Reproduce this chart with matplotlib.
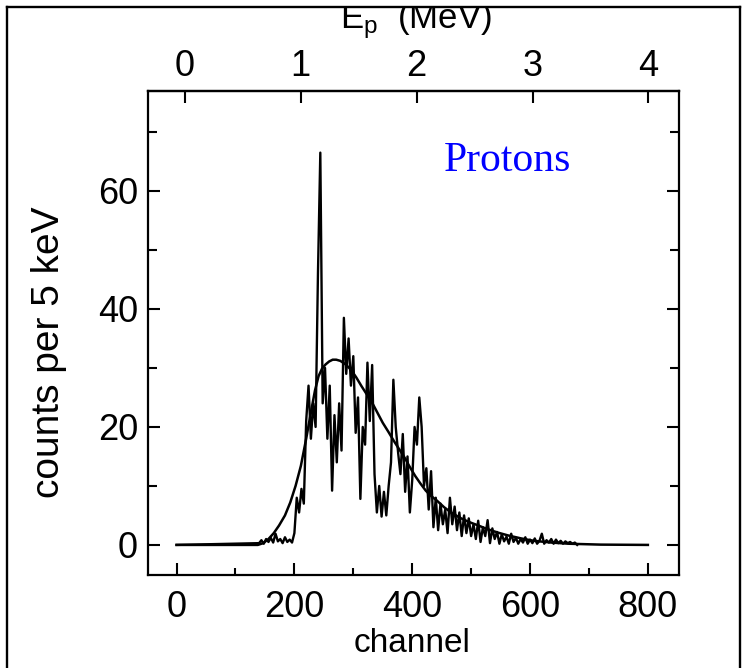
import numpy as np
import matplotlib.pyplot as plt
from matplotlib.lines import Line2D
from matplotlib.patches import Rectangle
from matplotlib.ticker import MultipleLocator

# smooth curve (fit)
fit_ch = [0, 138, 147, 156, 165, 174, 184, 193, 202, 211, 220, 229, 235, 241,
          247, 253, 259, 265, 271, 278, 287, 296, 305, 314, 323, 332, 341,
          350, 360, 369, 378, 387, 396, 405, 414, 423, 432, 442, 454, 466,
          481, 496, 512, 527, 545, 563, 585, 606, 636, 666, 720, 800]
fit_counts = [0, 0, 0.3, 1.0, 2.0, 3.3, 5.0, 7.2, 10.0, 13.4, 18.0, 23.0,
              26.2, 28.6, 29.9, 30.6, 31.1, 31.4, 31.4, 31.2, 30.6, 29.7,
              28.4, 26.9, 25.5, 24.1, 22.4, 20.7, 19.1, 17.6, 16.2, 14.8,
              13.2, 11.7, 10.4, 9.2, 8.3, 7.5, 6.4, 5.5, 4.6, 3.9, 3.3, 2.7,
              2.1, 1.6, 1.1, 0.7, 0.4, 0.2, 0.05, 0]

# measured spectrum, every 4th channel from 140
spec_start = 140
spec_step = 4
spec_counts = [
    0.3, 0.8, 0.2, 1.0, 0.5, 1.2, 0.4, 1.9, 0.6, 1.0, 0.3, 1.3, 0.5, 0.9, 0.4,
    2.0, 8.0, 5.5, 9.5, 7.0, 21.0, 27.0, 18.0, 24.0, 20.0,
    46.0, 66.5, 24.0, 30.0, 18.0, 27.0, 9.2, 22.0, 14.0, 24.0,
    16.0, 38.5, 29.0, 35.0, 27.0, 32.0, 19.0, 25.0, 7.8, 20.0,
    17.0, 30.9, 21.0, 30.5, 12.0, 5.5, 10.0, 4.8, 9.0, 5.0,
    10.0, 14.0, 28.0, 20.0, 15.7, 12.0, 18.8, 9.0, 15.0, 5.5,
    11.0, 20.0, 17.0, 25.0, 20.0, 10.0, 13.0, 6.0, 12.5, 3.0,
    8.0, 2.5, 7.0, 3.5, 6.0, 2.0, 8.0, 3.5, 6.5, 2.5,
    5.5, 1.5, 5.0, 2.0, 4.5, 1.5, 3.5, 1.0, 4.1, 0.5,
    3.0, 1.5, 4.2, 0.3, 2.8, 1.0, 2.2, 0.2, 1.8, 0.6,
    1.4, 0.2, 1.9, 0.5, 1.2, 0.2, 1.0, 0.4, 1.3, 0.2,
    0.9, 0.3, 1.1, 0.2, 0.7, 1.9, 0.2, 0.8, 0.4, 1.0,
    0.2, 0.9, 0.3, 0.7, 0.2, 0.6, 0.3, 0.5, 0.2, 0.4, 0.0]

x_ticks = [0, 200, 400, 600, 800]
y_ticks = [0, 20, 40, 60]
e_ticks = [0, 1, 2, 3, 4]

W, H = 753, 668
font = ['Liberation Sans', 'DejaVu Sans']

fig = plt.figure(figsize=(W / 100, H / 100), dpi=100)
ax = fig.add_axes([147.7 / W, 1 - 575 / H, (678.5 - 147.7) / W, (575 - 90.7) / H])

spec_ch = spec_start + spec_step * np.arange(len(spec_counts))
ax.plot(np.r_[0, spec_ch], np.r_[0, spec_counts], color='black', lw=1.7)
ax.plot(fit_ch, fit_counts, color='black', lw=1.8)

ax.set_xlim(-49, 852)
ax.set_ylim(-5.1, 77)
ax.set_xticks(x_ticks)
ax.set_yticks(y_ticks)
ax.xaxis.set_minor_locator(MultipleLocator(100))
ax.yaxis.set_minor_locator(MultipleLocator(10))
ax.tick_params(which='both', direction='in', width=1.5, right=True)
ax.tick_params(axis='x', which='major', length=8.5, pad=11)
ax.tick_params(axis='x', which='minor', length=5)
ax.tick_params(axis='y', which='major', length=8.5, pad=7)
ax.tick_params(axis='y', which='minor', length=6.5)
for s in ax.spines.values():
    s.set_linewidth(1.6)
for lab in ax.get_xticklabels() + ax.get_yticklabels():
    lab.set_family(font)
    lab.set_fontsize(26)

# proton energy on top: channel = 14.1 + 196.7 * E
top = ax.secondary_xaxis('top', functions=(lambda c: (c - 14.1) / 196.7,
                                           lambda e: 14.1 + 196.7 * e))
top.set_xticks(e_ticks)
top.tick_params(direction='in', length=8.5, width=1.5, pad=5)
top.spines['top'].set_linewidth(1.6)
for lab in top.get_xticklabels():
    lab.set_family(font)
    lab.set_fontsize(26)

fig.text(412.5 / W, 1 - 651.7 / H, 'channel', ha='center', va='baseline',
         family=font, fontsize=24)
fig.text(49 / W, 1 - 352 / H, 'counts per 5 keV', rotation=90, ha='center',
         va='center', family=font, fontsize=28)
fig.text(416 / W, 1 - 28 / H, r'$\mathregular{E_p}$  (MeV)', ha='center',
         va='baseline', family=font, fontsize=25)
fig.text(443.6 / W, 1 - 170.7 / H, 'Protons', ha='left', va='baseline',
         family=['Liberation Serif', 'DejaVu Serif'], fontsize=30, color='#0000ff')

# scan frame: white strip above the top line hides the cut-off title
fig.add_artist(Rectangle((0, 1 - 7 / H), 1, 7 / H, transform=fig.transFigure,
                         facecolor='white', edgecolor='none', zorder=5))
frame = dict(color='black', lw=1.7, zorder=6, transform=fig.transFigure)
fig.add_artist(Line2D([6.8 / W, 740 / W], [1 - 6.8 / H, 1 - 6.8 / H], **frame))
fig.add_artist(Line2D([6.8 / W, 6.8 / W], [0, 1 - 6.8 / H], **frame))
fig.add_artist(Line2D([740 / W, 740 / W], [0, 1 - 6.8 / H], **frame))

fig.savefig('out.png', dpi=100)
